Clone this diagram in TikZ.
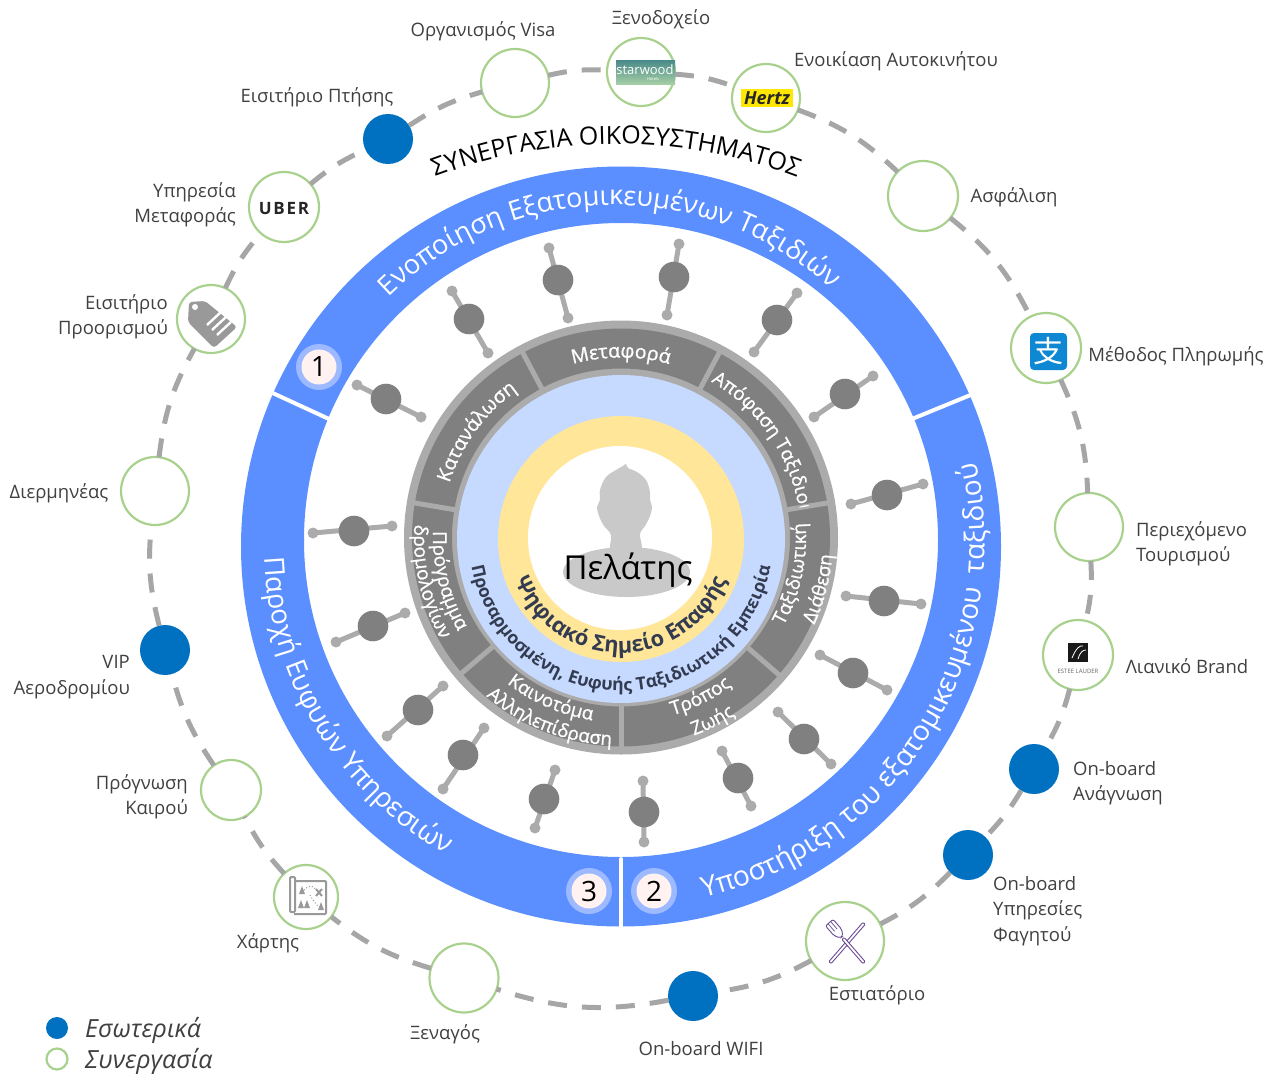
\documentclass[tikz,border=0pt]{standalone}
\usepackage{fontspec}
\setmainfont{Open Sans}
\newfontfamily\cjkfont{Noto Sans CJK SC}
\newfontfamily\semifont[FakeBold=1]{Open Sans}
\usetikzlibrary{decorations.text,shapes.geometric,calc}
\definecolor{ringblue}{HTML}{5B8FFF}
\definecolor{badgeblue}{HTML}{9DB9FF}
\definecolor{badgepale}{HTML}{FFF2F0}
\definecolor{inhouse}{HTML}{0070C0}
\definecolor{partner}{HTML}{A9D18E}
\definecolor{dashgrey}{HTML}{A6A6A6}
\definecolor{lightring}{HTML}{ABABAB}
\definecolor{darkseg}{HTML}{808080}
\definecolor{paleblue}{HTML}{C6D9FF}
\definecolor{gold}{HTML}{FFE699}
\definecolor{labelgrey}{HTML}{404040}
\definecolor{navy}{HTML}{333B50}
\definecolor{iconpurple}{HTML}{6A4A92}
\definecolor{icongrey}{HTML}{999999}
\newcommand{\sz}[1]{\fontsize{#1}{#1}\selectfont}
% centre x, centre y, radius, start angle, end angle, colour, size, text
\newcommand{\arctext}[8]{%
  \path[decorate,decoration={text along path,text align=center,text color=#6,
    text={|\sz{#7}|#8}}]
    ([shift={(#1,#2)}]#4:#3pt) arc[start angle=#4,end angle=#5,radius=#3pt];}
\newcommand{\arctextb}[8]{%
  \path[decorate,decoration={text along path,text align=center,text color=#6,
    text={|\sz{#7}\semifont|#8}}]
    ([shift={(#1,#2)}]#4:#3pt) arc[start angle=#4,end angle=#5,radius=#3pt];}
\newcommand{\arctexth}[8]{%
  \path[decorate,decoration={text along path,text align=center,text color=#6,
    text={|\sz{#7}\bfseries|#8}}]
    ([shift={(#1,#2)}]#4:#3pt) arc[start angle=#4,end angle=#5,radius=#3pt];}
\tikzset{
  sat/.style={circle,draw=partner,line width=2.2pt,fill=white,inner sep=0pt,outer sep=0pt,minimum size=#1},
  own/.style={circle,fill=inhouse,inner sep=0pt,outer sep=0pt,minimum size=50pt},
  lab/.style={text=labelgrey,font=\sz{18.5},inner sep=0pt},
  labl/.style={lab,align=left,anchor=west,font=\fontsize{18.5}{25.5}\selectfont},
  labr/.style={lab,align=right,anchor=east,font=\fontsize{18.5}{25.5}\selectfont},
  dashlink/.style={draw=dashgrey,line width=5pt,dash pattern=on 19pt off 15pt},
  badgeo/.style={circle,fill=badgeblue,inner sep=0pt,minimum size=46pt},
  badgei/.style={circle,fill=badgepale,inner sep=0pt,minimum size=35pt,text=black,font=\sz{28}},
}
\begin{document}
\begin{tikzpicture}[x=1pt,y=-1pt]
\useasboundingbox (0,0) rectangle (1268,1073);
% ---- outer blue ring
\fill[ringblue,even odd rule] (621,546.5) circle[radius=380pt] (621,540) circle[radius=317pt];
\draw[white,line width=4pt] (270.5,392) -- (329,419);
\draw[white,line width=4pt] (973,394) -- (912,419);
\draw[white,line width=4pt,line cap=round] (621,859) -- (621,928);
% ---- satellites
\node[sat=68pt] (visa) at (515,83) {};
\node[sat=68pt] (hotel) at (641,72) {};
\node[sat=68pt] (hertz) at (766,98) {};
\node[sat=70pt] (insur) at (923,196) {};
\node[sat=70pt] (pay) at (1046,348) {};
\node[sat=68pt] (content) at (1089,527) {};
\node[sat=70pt] (retail) at (1078,655) {};
\node[own] (read) at (1034,769) {};
\node[own] (food) at (968,855) {};
\node[sat=78pt] (rest) at (845,941) {};
\node[own] (wifi) at (693,996) {};
\node[sat=69pt] (guide) at (464,978) {};
\node[sat=64pt] (map) at (306,897) {};
\node[sat=60pt] (weather) at (231,790) {};
\node[own] (vip) at (165,650) {};
\node[sat=68pt] (interp) at (155,491) {};
\node[sat=68pt] (dest) at (211,319) {};
\node[sat=70pt] (uber) at (284,207) {};
\node[own] (flight) at (388,139) {};
% ---- dashed links
\foreach \p/\q/\b in {flight/visa/8.7,visa/hotel/8,hotel/hertz/8,hertz/insur/11.6,insur/pay/12.3,
  pay/content/11.3,content/retail/8,retail/read/7.4,read/food/6.6,food/rest/9.2,rest/wifi/10,
  wifi/guide/14.2,guide/map/10.8,map/weather/7.9,weather/vip/9.5,vip/interp/9.8,interp/dest/11.2,
  dest/uber/8.2,uber/flight/7.7}
  \draw[dashlink] (\p) to[bend left=\b] (\q);
% ---- molecules
\foreach \bx/\by/\ax/\ay/\cx/\cy in {
  469/319/452/291/488/353, 558/280/549/248/568/318, 674/277/679/244/667/315,
  777/320/797/293/754/352, 845/394/873/376/814/417, 887/495/923/484/851/504,
  884/601/921/604/846/596, 853/673/887/690/820/655, 804/739/831/764/778/712,
  738/778/751/806/722/751, 644/812/644/842/643/781, 544/799/535/828/555/770,
  463/755/443/789/484/728, 418/710/387/736/443/686, 373/626/336/642/405/613,
  354/531/313/533/392/526, 386/399/357/385/421/417}{
  \draw[lightring,line width=5pt] (\ax,\ay) -- (\cx,\cy);
  \fill[lightring] (\ax,\ay) circle[radius=5.5pt] (\cx,\cy) circle[radius=5.5pt];
  \fill[darkseg] (\bx,\by) circle[radius=15.3pt];
}
% ---- inner discs
\fill[lightring] (621,537.5) circle[radius=217pt];
\fill[darkseg,even odd rule] (621,537.5) circle[radius=209pt] (621,537.5) circle[radius=169pt];
\foreach \a in {118,62,9.5,-41,-90,220.4,170.5}
  \draw[lightring,line width=5pt] ([shift={(621,537.5)}]\a:166pt) -- ([shift={(621,537.5)}]\a:213pt);
\fill[paleblue] (621,539) circle[radius=164pt];
\fill[gold] (621,539) circle[radius=123pt];
\fill[white] (620,538) circle[radius=92pt];
% ---- person
\fill[black!21] (626.5,572) ellipse[x radius=63.5pt,y radius=25pt];
\fill[black!21] plot[smooth cycle,tension=0.6] coordinates {(612,552)(611,535)(604,526)(599,516)(597,507)(600,500)(600,490)(606,477)(616,470)(623,466)(626,464)(628,468)(637,472)(646,480)(650,492)(650,500)(652,507)(650,516)(645,526)(640,534)(640,552)};
\node[font=\sz{33},text=black,inner sep=0pt] (customer) at (628,570) {Πελάτης};
% ---- centre curved text
\arctexth{621}{539}{114}{200}{340}{navy}{21.8}{Ψηφιακό Σημείο Επαφής}
\arctexth{621}{539}{152}{190}{350}{navy}{17.6}{Προσαρμοσμένη, Ευφυής Ταξιδιωτική Εμπειρία}
% ---- segment text
\arctextb{621}{537.5}{180}{120}{60}{white}{19.5}{Μεταφορά}
\arctextb{621}{537.5}{180}{173.8}{113.8}{white}{19.5}{Κατανάλωση}
\begin{scope}
\clip (621,537.5) -- (762,273) -- (1000,273) -- (1000,474) -- cycle;
\path[decorate,decoration={text along path,text color=white,text={|\sz{19}\semifont|Απόφαση Ταξιδιού}}]
  ([shift={(621,537.5)}]60:180pt) arc[start angle=60,end angle=-15,radius=180pt];
\end{scope}
\arctextb{621}{537.5}{185}{-53}{29}{white}{19}{Ταξιδιωτική}
\arctextb{621}{537.5}{212}{-52}{23}{white}{19}{Διάθεση}
\arctextb{621}{537.5}{185}{-100}{-27}{white}{19}{Τρόπος}
\arctextb{621}{537.5}{211}{-100}{-27}{white}{19}{Ζωής}
\arctextb{621}{537.5}{185}{210}{283}{white}{18.7}{Καινοτόμα}
\arctextb{621}{537.5}{208}{210}{287}{white}{18.7}{Αλληλεπίδραση}
\arctextb{621}{537.5}{188}{160}{228}{white}{19}{Πρόγραμμα}
\arctextb{621}{537.5}{207}{160}{226}{white}{19}{δρομολογίων}
% ---- ring text
\arctext{614}{527}{322}{149}{33}{white}{27}{Ενοποίηση Εξατομικευμένων Ταξιδιών}
\arctext{621}{543}{357}{166.5}{256.5}{white}{27.5}{Παροχή Ευφυών Υπηρεσιών}
\arctext{621}{543}{364}{-90}{26}{white}{28}{Υποστήριξη του εξατομικευμένου~~ταξιδιού}
\arctext{616}{657}{513}{118}{62}{black}{25}{ΣΥΝΕΡΓΑΣΙΑ ΟΙΚΟΣΥΣΤΗΜΑΤΟΣ}
% ---- badges
\node[badgeo] (b1o) at (319,367) {}; \node[badgei] (b1) at (319,367) {1};
\node[badgeo] (b2o) at (654,891) {}; \node[badgei] (b2) at (654,891) {2};
\node[badgeo] (b3o) at (589,891) {}; \node[badgei] (b3) at (589,891) {3};
% ---- captions
\node[lab] (t1) at (483,31) {Οργανισμός Visa};
\node[lab] (t2) at (661,19) {Ξενοδοχείο};
\node[lab] (t3) at (896,61) {Ενοικίαση Αυτοκινήτου};
\node[lab] (t4) at (1014,197) {Ασφάλιση};
\node[lab] (t5) at (1176,356) {Μέθοδος Πληρωμής};
\node[labl] (t6) at (1136,544) {Περιεχόμενο\\Τουρισμού};
\node[lab] (t7) at (1187,666) {Λιανικό Brand};
\node[labl] (t8) at (1073,783) {On-board\\Ανάγνωση};
\node[labl] (t9) at (993,911) {On-board\\Υπηρεσίες\\Φαγητού};
\node[lab] (t10) at (877,995) {Εστιατόριο};
\node[lab] (t11) at (701,1049) {On-board WIFI};
\node[lab] (t12) at (445,1034) {Ξεναγός};
\node[lab] (t13) at (268,943) {Χάρτης};
\node[labr] (t14) at (188,797) {Πρόγνωση\\Καιρού};
\node[labr] (t15) at (130,677) {VIP\\Αεροδρομίου};
\node[lab] (t16) at (59,493) {Διερμηνέας};
\node[labr] (t17) at (168,317) {Εισιτήριο\\Προορισμού};
\node[labr] (t18) at (236,205) {Υπηρεσία\\Μεταφοράς};
\node[lab] (t19) at (317,97) {Εισιτήριο Πτήσης};
% ---- legend
\node[own,minimum size=22pt] (k1) at (57,1028) {};
\node[sat=21pt] (k2) at (57,1059) {};
\node[anchor=west,font=\sz{25}\itshape,text=labelgrey,inner sep=0pt] (k1t) at (85,1030) {Εσωτερικά};
\node[anchor=west,font=\sz{25}\itshape,text=labelgrey,inner sep=0pt] (k2t) at (85,1061) {Συνεργασία};
% ---- logos
\node[inner sep=0pt,font=\sz{17}\bfseries\addfontfeature{LetterSpace=10},text=black!85] (uberlogo) at (284,209) {UBER};
\shade[top color=teal!55!gray!90,bottom color=green!30!gray!55] (616,61) rectangle (675,84);
\node[inner sep=0pt,text=white,font=\sz{13}] (starw) at (645,70) {starwood};
\node[inner sep=0pt,text=white,font=\sz{4}] (starh) at (653,79) {Hotels};
\fill[yellow!90!orange] (741,89) rectangle (793,107);
\node[inner sep=0pt,text=black!85,font=\sz{18}\bfseries\itshape] (hertzt) at (767,98.5) {Hertz};
\fill[cyan!70!blue,rounded corners=4pt] (1030,333) rectangle (1067,370);
\node[inner sep=0pt,text=white,font=\sz{30}\cjkfont] (alipay) at (1048.5,351) {支};
\fill[black!90] (1068,643) rectangle (1088,662);
\draw[white,line width=0.8pt] (1072,658) .. controls (1076,648) and (1080,645) .. (1083,646) (1078,659) .. controls (1080,652) and (1083,650) .. (1086,650);
\node[inner sep=0pt,text=black!60,font=\sz{6}] (estee) at (1078,671) {ESTEE LAUDER};
% tag
\fill[icongrey,rounded corners=3pt] (189,302) -- (205,301) -- (237,327) -- (214,348) -- (188,322) -- cycle;
\fill[white] (195,307) circle[radius=3pt];
\foreach \i in {0,1,2}
  \draw[white,line width=2.4pt] (207+\i*5,325+\i*5) -- (221+\i*5,312+\i*5);
% map
\draw[icongrey,line width=2pt,rounded corners=1pt] (290,877) rectangle (295,912) (295,881) -- (326,881) -- (326,914) -- (294,914);
\draw[icongrey,line width=2pt] (316,889) -- (322,896) (322,889) -- (316,896);
\draw[icongrey,line width=1pt,dotted] (304,890) .. controls (310,884) and (314,886) .. (316,890) (310,895) .. controls (314,902) and (316,904) .. (318,906);
\foreach \tx/\ty in {302/890,301/904,307/904,321/906}
  \fill[icongrey] (\tx-3,\ty+4) -- (\tx,\ty-4) -- (\tx+3,\ty+4) -- cycle;
% fork and knife
\begin{scope}[shift={(847,943)},rotate=-41]
  \draw[iconpurple,line width=0.9pt,rounded corners=1pt,fill=white] (-1.5,-26) rectangle (1.5,26);
\end{scope}
\begin{scope}[shift={(847,943)},rotate=41]
  \draw[iconpurple,line width=0.9pt,rounded corners=1pt,fill=white] (-1.5,-6) rectangle (1.5,26);
  \draw[iconpurple,line width=0.9pt,fill=white,rounded corners=2pt] (-1.5,-8) -- (-5,-14) -- (-5,-27) -- (5,-27) -- (5,-14) -- (1.5,-8) -- cycle;
  \draw[iconpurple,line width=0.7pt] (-1.7,-27) -- (-1.7,-17) (1.7,-27) -- (1.7,-17);
\end{scope}
\end{tikzpicture}
\end{document}
